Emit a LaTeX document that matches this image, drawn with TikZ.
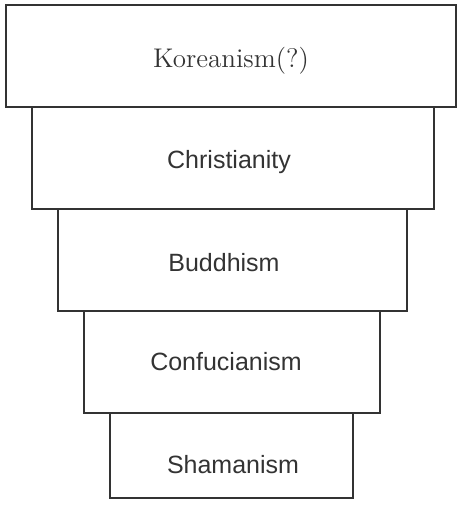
\documentclass[tikz,border=0pt]{standalone}
\usepackage{fontspec}
\setsansfont{Liberation Sans}
\begin{document}
\begin{tikzpicture}[x=0.5pt,y=-0.5pt]
 \tikzset{layer/.style={draw=black!80,line width=0.6pt,inner sep=0pt,minimum height=51pt},
   sanslbl/.style={font=\sffamily\fontsize{12.5}{15}\selectfont,text=black!80},
   seriflbl/.style={font=\fontsize{13.5}{16}\selectfont,text=black!80}}
 \useasboundingbox (0,0) rectangle (457,508);
 % stacked layers, widest on top
 \node[layer,minimum width=225pt] (korea) at (231,56) {};
 \node[layer,minimum width=201pt] (christ) at (233,158) {};
 \node[layer,minimum width=174.5pt] (buddh) at (232.5,260) {};
 \node[layer,minimum width=148pt] (confuc) at (232,362) {};
 \node[layer,minimum width=121.5pt,minimum height=42.5pt] (shaman) at (231.5,455.5) {};
 % labels
 \node[seriflbl] (korealbl) at (231,61) {Koreanism(?)};
 \node[sanslbl] (christlbl) at (229,162) {Christianity};
 \node[sanslbl] (buddhlbl) at (224,263) {Buddhism};
 \node[sanslbl] (confuclbl) at (226,362) {Confucianism};
 \node[sanslbl] (shamanlbl) at (233,465) {Shamanism};
\end{tikzpicture}
\end{document}
